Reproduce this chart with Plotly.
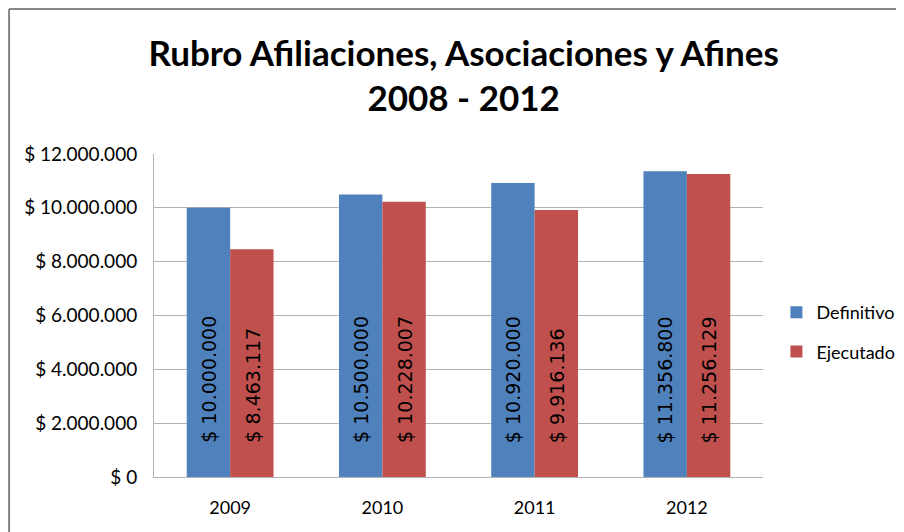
import plotly.graph_objects as go

years = ["2009", "2010", "2011", "2012"]
definitivo = [10000000, 10500000, 10920000, 11356800]
ejecutado = [8463117, 10228007, 9916136, 11256129]
ytick_vals = [0, 2000000, 4000000, 6000000, 8000000, 10000000, 12000000]
ytick_text = ["$ 0", "$ 2.000.000", "$ 4.000.000", "$ 6.000.000", "$ 8.000.000", "$ 10.000.000", "$ 12.000.000"]

def fmt(v):
    return "$ " + f"{v:,}".replace(",", ".")

BLUE = "#4F81BD"
RED = "#C0504D"

fig = go.Figure()
fig.add_trace(go.Bar(name="Definitivo", x=years, y=definitivo, marker_color=BLUE,
                     marker_line_width=0, legendgroup="d"))
fig.add_trace(go.Bar(name="Ejecutado", x=years, y=ejecutado, marker_color=RED,
                     marker_line_width=0, legendgroup="e"))

annotations = []
for i, yr in enumerate(years):
    for vals, shift in ((definitivo, -22), (ejecutado, 22)):
        annotations.append(dict(
            x=i, y=0, xref="x", yref="y", text=fmt(vals[i]), showarrow=False,
            textangle=-90, xshift=shift, yshift=32, yanchor="bottom", xanchor="center",
            font=dict(family="DejaVu Sans", size=19, color="#000000")))

fig.update_layout(
    width=904, height=524,
    margin=dict(l=146, r=144, t=146, b=55),
    paper_bgcolor="white", plot_bgcolor="white",
    barmode="group", bargap=0.43, bargroupgap=0,
    title=dict(text="<b>Rubro Afiliaciones, Asociaciones y Afines<br>2008 - 2012</b>",
               x=0.504, xanchor="center", y=0.89, yanchor="top",
               font=dict(family="Lato", size=35, color="#000000")),
    font=dict(family="Lato", size=18, color="#000000"),
    xaxis=dict(type="category", showgrid=False, showline=True, linecolor="#B3B3B3", ticks="",
               tickfont=dict(family="Lato", size=18), ticklabelstandoff=14),
    yaxis=dict(range=[0, 12000000], tickvals=ytick_vals, ticktext=ytick_text,
               showgrid=True, gridcolor="#B3B3B3", gridwidth=1, showline=True,
               linecolor="#B3B3B3", ticks="", zeroline=False,
               tickfont=dict(family="Lato", size=19), ticklabelstandoff=12),
    legend=dict(x=1.022, y=0.449, xanchor="left", yanchor="middle",
                font=dict(family="Lato", size=18), tracegroupgap=13,
                itemsizing="constant", bgcolor="rgba(0,0,0,0)"),
    annotations=annotations,
    shapes=[
        dict(type="line", xref="paper", yref="paper", x0=-0.238, x1=-0.238, y0=1.449, y1=-0.3,
             line=dict(color="#868686", width=2)),
        dict(type="line", xref="paper", yref="paper", x0=-0.238, x1=1.3, y0=1.449, y1=1.449,
             line=dict(color="#868686", width=2)),
    ],
)

fig.write_html("out.html")
